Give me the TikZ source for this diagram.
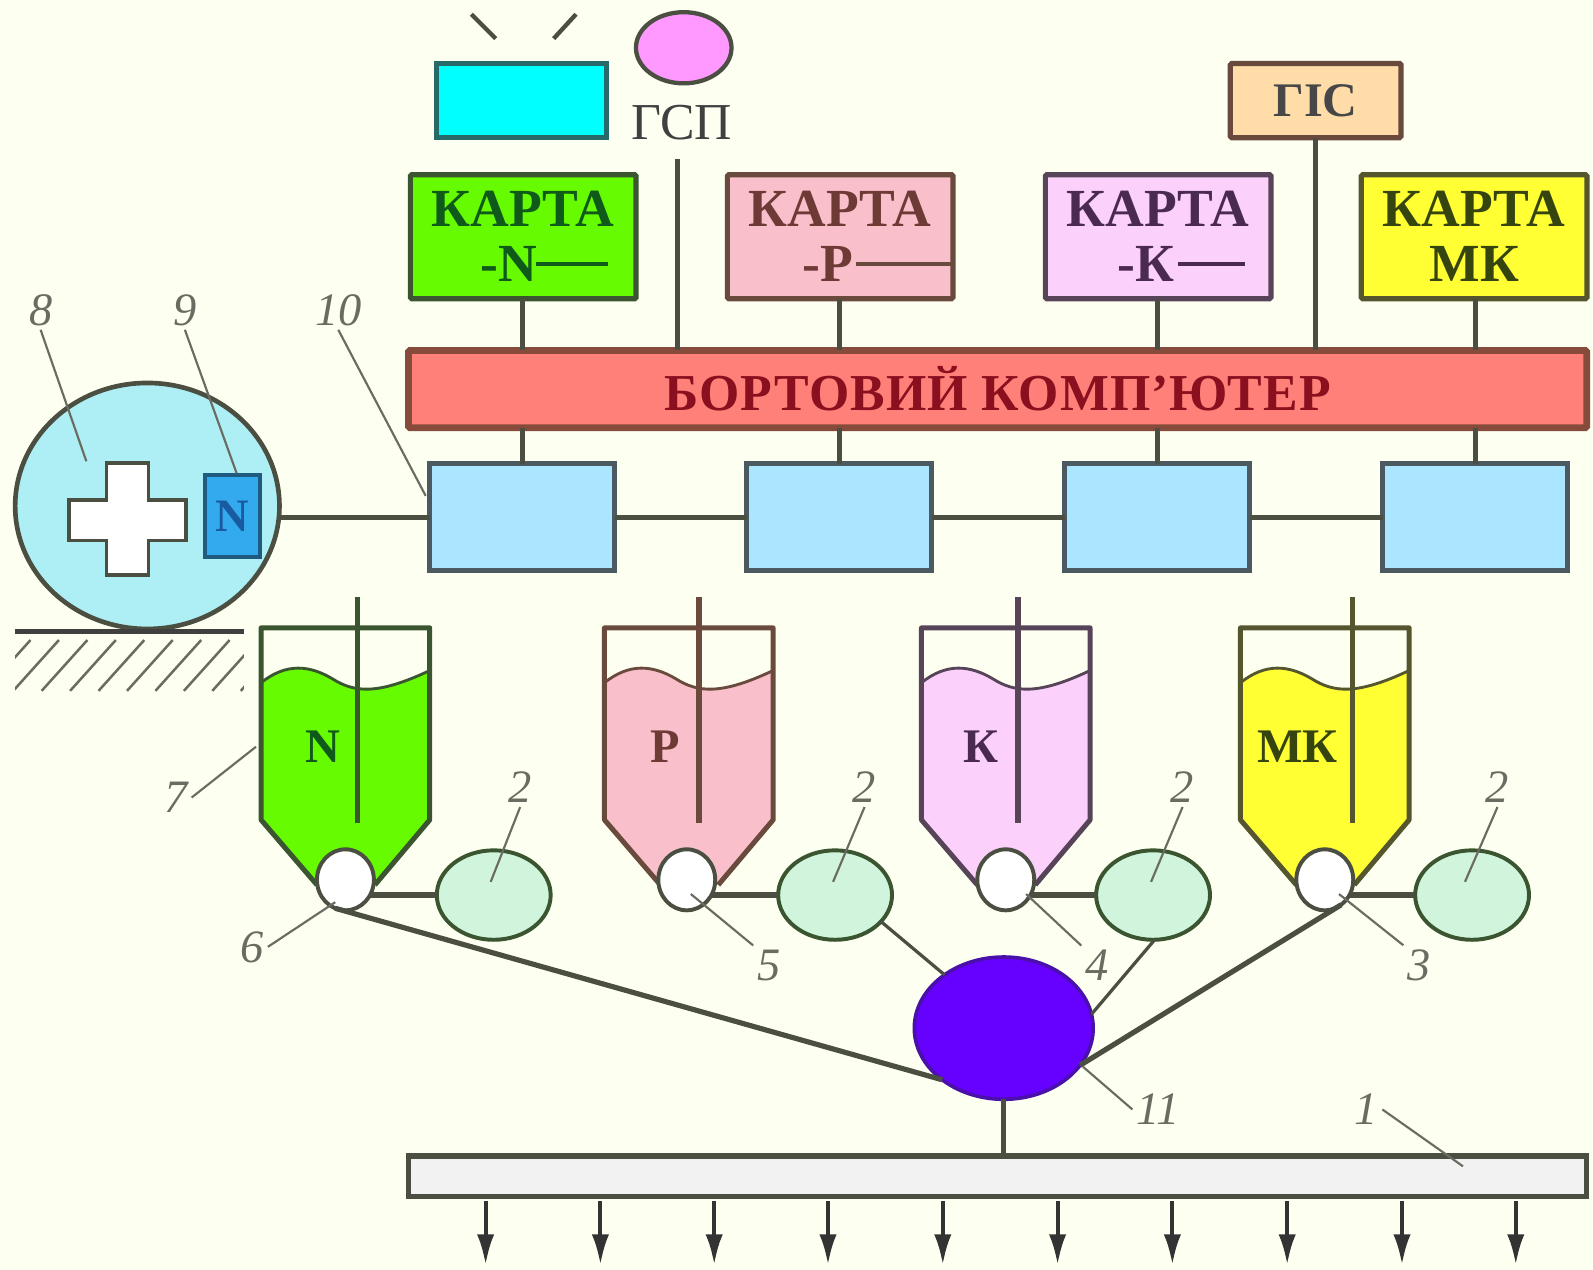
\documentclass[tikz,border=0pt]{standalone}
\usepackage{fontspec}
\setmainfont{Liberation Serif}
\usetikzlibrary{shapes.geometric,arrows.meta}

\definecolor{paper}{HTML}{FDFFF1}
\definecolor{darkline}{HTML}{4A4F42}
\definecolor{leadgray}{HTML}{6A6C62}
\definecolor{lgreen}{HTML}{66FB00}
\definecolor{lpink}{HTML}{F9BFCB}
\definecolor{lviolet}{HTML}{FBD0FB}
\definecolor{lyellow}{HTML}{FFFF33}
\definecolor{txgreen}{HTML}{0F5A1A}
\definecolor{txbrown}{HTML}{6E3A35}
\definecolor{txviolet}{HTML}{4A2A50}
\definecolor{txolive}{HTML}{36450F}
\definecolor{lngreen}{HTML}{3A5530}
\definecolor{lnbrown}{HTML}{6A4A3C}
\definecolor{lnviolet}{HTML}{574458}
\definecolor{lnolive}{HTML}{55562E}

\tikzset{
    box/.style n args={3}{draw=#2, fill=#1, text=#3, line width=1.45pt, rounded corners=0.4pt,
        outer sep=0pt, inner sep=0pt, align=center, font=\fontsize{15}{15.4}\selectfont\bfseries},
    kartabox/.style={minimum width=2.22cm, minimum height=1.22cm},
    dosebox/.style={draw=#1, fill={rgb,255:red,170;green,230;blue,255}, line width=1.5pt, outer sep=0pt, inner sep=0pt,
        minimum width=1.82cm, minimum height=1.05cm},
    valve/.style={ellipse, draw=darkline, fill=white, line width=1.1pt, inner sep=0pt, outer sep=0pt,
        minimum width=0.56cm, minimum height=0.6cm},
    drive/.style={ellipse, draw=lngreen, fill={rgb,255:red,208;green,245;blue,220}, line width=1.1pt, inner sep=0pt,
        outer sep=0pt, minimum width=1.12cm, minimum height=0.88cm},
    numlabel/.style={text=leadgray, inner sep=1pt, font=\fontsize{13}{13}\selectfont\itshape},
    leader/.style={draw=leadgray, line width=0.6pt},
    wire/.style={draw=darkline, line width=1.45pt},
    binlabel/.style={font=\fontsize{13.5}{14}\selectfont\bfseries},
}

% one hopper: fill, line colour, left x, rod x
\newcommand{\hopper}[4]{
    \begin{scope}[xshift=#3*0.01cm]
        \fill[#1] (0,672) .. controls (25,652) and (48,655) .. (70,668) .. controls (92,682) and (115,684) .. (166,660)
            -- (166,807) -- (112,871) -- (55,871) -- (0,807) -- cycle;
        \draw[#2, line width=0.8pt] (0,672) .. controls (25,652) and (48,655) .. (70,668) .. controls (92,682) and (115,684) .. (166,660);
        \draw[#2, line width=1.4pt, line join=round] (55,871) -- (0,807) -- (0,618) -- (166,618) -- (166,807) -- (112,871);
        \draw[#2, line width=1.5pt] (#4,588) -- (#4,810);
    \end{scope}
}

\begin{document}
\begin{tikzpicture}[x=0.01cm, y=-0.01cm]
    \useasboundingbox (0,0) rectangle (1568,1250);
    \fill[paper] (0,0) rectangle (1568,1250);

    % top row
    \node[draw={rgb,255:red,40;green,105;blue,105}, fill={rgb,255:red,0;green,255;blue,255}, line width=1.4pt, outer sep=0pt, minimum width=1.67cm, minimum height=0.72cm] (screen) at (513,99) {};
    \coordinate (rayA) at (464,14);
    \coordinate (rayAe) at (488,38);
    \coordinate (rayB) at (567,14);
    \coordinate (rayBe) at (545,38);
    \draw[darkline, line width=1.2pt] (rayA) -- (rayAe);
    \draw[darkline, line width=1.2pt] (rayB) -- (rayBe);
    \node[ellipse, draw=darkline, fill={rgb,255:red,255;green,153;blue,255}, line width=1.2pt, inner sep=0pt, minimum width=0.94cm, minimum height=0.7cm] (sat) at (673,47) {};
    \node[text=black!75, inner sep=0pt, font=\fontsize{14.5}{15}\selectfont] (gsp) at (671,121) {ГСП};
    \node[box={{rgb,255:red,255;green,220;blue,168}}{lnbrown}{black!72}, font=\fontsize{13.5}{14}\selectfont\bfseries, minimum width=1.68cm, minimum height=0.73cm] (gis) at (1295,99) {ГІС};

    % maps
    \node[box={lgreen}{lngreen}{txgreen}, kartabox] (mapN) at (515,233) {КАРТА\\-N\rule{8pt}{0pt}};
    \node[box={lpink}{lnbrown}{txbrown}, kartabox] (mapP) at (827,233) {КАРТА\\-Р\rule{7pt}{0pt}};
    \node[box={lviolet}{lnviolet}{txviolet}, kartabox] (mapK) at (1140,233) {КАРТА\\-К\rule{7pt}{0pt}};
    \node[box={lyellow}{lnolive}{txolive}, kartabox] (mapM) at (1451,233) {КАРТА\\МК};
    \coordinate (dashNa) at (528,260);
    \coordinate (dashNb) at (598,260);
    \coordinate (dashPa) at (843,260);
    \coordinate (dashKa) at (1160,260);
    \coordinate (dashKb) at (1225,260);
    \draw[txgreen, line width=1.2pt] (dashNa) -- (dashNb);
    \draw[lnbrown, line width=1.2pt] (dashPa) -- (dashPa -| mapP.east);
    \draw[txviolet, line width=1.2pt] (dashKa) -- (dashKb);

    % computer
    \node[box={{rgb,255:red,255;green,128;blue,120}}{{rgb,255:red,135;green,75;blue,60}}{{rgb,255:red,138;green,16;blue,32}}, line width=1.9pt, minimum width=11.59cm, minimum height=0.76cm, font=\fontsize{14.5}{15}\selectfont\bfseries] (comp) at (982,383) {\addfontfeatures{LetterSpace=2}БОРТОВИЙ КОМП’ЮТЕР};

    % dosing controllers
    \definecolor{ctlline}{HTML}{4A5A60}
    \node[dosebox=ctlline] (ctlN) at (514,509) {};
    \node[dosebox=ctlline] (ctlP) at (826,509) {};
    \node[dosebox=ctlline] (ctlK) at (1139,509) {};
    \node[dosebox=ctlline] (ctlM) at (1452,509) {};

    % wheel with sensor
    \node[ellipse, draw=darkline, fill={rgb,255:red,174;green,239;blue,245}, line width=1.3pt, inner sep=0pt, outer sep=0pt, minimum width=2.6cm, minimum height=2.42cm] (wheel) at (145,498) {};
    \draw[darkline, fill=white, line width=1pt] (105,456) -- (146,456) -- (146,492) -- (183,492) -- (183,532) -- (146,532) -- (146,566) -- (105,566) -- (105,532) -- (68,532) -- (68,492) -- (105,492) -- cycle;
    \node[draw={rgb,255:red,32;green,90;blue,128}, fill={rgb,255:red,51;green,170;blue,238}, text={rgb,255:red,26;green,90;blue,160}, line width=1.2pt, outer sep=0pt, inner sep=0pt, minimum width=0.54cm, minimum height=0.81cm, font=\fontsize{13}{13}\selectfont\bfseries] (sensor) at (229,508) {N};
    \draw[black!75, line width=1.4pt] (15,622) -- (240,622);
    \begin{scope}
        \clip (15,622) rectangle (240,682);
        \foreach \x in {30,58,...,310}
            \draw[leadgray, line width=0.7pt] (\x,630) -- (\x-45,680);
    \end{scope}

    % connectors of the top part
    \draw[wire] (sat |- comp.north) ++(-6,0) -- ++(0,-188);
    \draw[wire] (gis.south) -- (gis.south |- comp.north);
    \draw[wire] (mapN.south -| ctlN) -- (comp.north -| ctlN);
    \draw[wire] (mapP.south -| ctlP) -- (comp.north -| ctlP);
    \draw[wire] (mapK.south -| ctlK) -- (comp.north -| ctlK);
    \draw[wire] (mapM.south -| ctlM) -- (comp.north -| ctlM);
    \draw[wire] (comp.south -| ctlN) -- (ctlN.north);
    \draw[wire] (comp.south -| ctlP) -- (ctlP.north);
    \draw[wire] (comp.south -| ctlK) -- (ctlK.north);
    \draw[wire] (comp.south -| ctlM) -- (ctlM.north);
    \draw[wire] (wheel.east |- ctlN.west) -- (ctlN.west);
    \draw[wire] (ctlN.east) -- (ctlP.west);
    \draw[wire] (ctlP.east) -- (ctlK.west);
    \draw[wire] (ctlK.east) -- (ctlM.west);

    % hoppers
    \hopper{lgreen}{lngreen}{257}{95}
    \hopper{lpink}{lnbrown}{595}{93}
    \hopper{lviolet}{lnviolet}{907}{95}
    \hopper{lyellow}{lnolive}{1221}{110}
    \node[binlabel, text=txgreen] (binN) at (318,735) {N};
    \node[binlabel, text=txbrown] (binP) at (655,735) {Р};
    \node[binlabel, text=txviolet] (binK) at (966,735) {К};
    \node[binlabel, text=txolive] (binM) at (1277,735) {МК};

    % valves and drives
    \node[valve] (valveN) at (340,866) {};
    \node[valve] (valveP) at (676,866) {};
    \node[valve] (valveK) at (990,866) {};
    \node[valve] (valveM) at (1304,866) {};
    \node[drive] (driveN) at (486,881) {};
    \node[drive] (driveP) at (822,881) {};
    \node[drive] (driveK) at (1135,881) {};
    \node[drive] (driveM) at (1449,881) {};
    \draw[wire] (driveN.west) -- (driveN.west -| valveN.-30);
    \draw[wire] (driveP.west) -- (driveP.west -| valveP.-30);
    \draw[wire] (driveK.west) -- (driveK.west -| valveK.-30);
    \draw[wire] (driveM.west) -- (driveM.west -| valveM.-30);

    % mixer and boom
    \node[ellipse, draw={rgb,255:red,74;green,16;blue,170}, fill={rgb,255:red,102;green,0;blue,255}, line width=1pt, inner sep=0pt, outer sep=0pt, minimum width=1.76cm, minimum height=1.4cm] (mixer) at (988,1012) {};
    \draw[wire] (valveN.-110) -- (mixer.220);
    \draw[wire] (valveM.-57) -- (mixer.-26);
    \draw[darkline, line width=0.9pt] (driveP.-30) -- (mixer.138);
    \draw[darkline, line width=0.9pt] (driveK.-88) -- (mixer.9);
    \node[draw=darkline, fill=black!5, line width=1.5pt, inner sep=0pt, outer sep=0pt, minimum width=11.59cm, minimum height=0.4cm] (boom) at (982,1158) {};
    \draw[wire] (mixer.south) -- (mixer.south |- boom.north);
    \foreach \x [count=\i] in {478,591,703,815,928,1041,1154,1267,1380,1492} {
        \coordinate (out\i) at (\x,1245);
        \draw[black!80, line width=1.1pt, -{Latex[length=3mm, width=1.7mm]}] (out\i |- boom.south) ++(0,4) -- (out\i);
    }

    % number labels
    \node[numlabel] (lab8) at (40,305) {8};
    \node[numlabel] (lab9) at (182,305) {9};
    \node[numlabel] (lab10) at (333,305) {10};
    \node[numlabel] (lab7) at (173,785) {7};
    \node[numlabel] (lab6) at (248,932) {6};
    \node[numlabel] (lab5) at (757,950) {5};
    \node[numlabel] (lab4) at (1080,950) {4};
    \node[numlabel] (lab3) at (1397,950) {3};
    \node[numlabel] (lab11) at (1140,1092) {11};
    \node[numlabel] (lab1) at (1345,1092) {1};
    \node[numlabel] (labN) at (512,775) {2};
    \node[numlabel] (labP) at (851,775) {2};
    \node[numlabel] (labK) at (1164,775) {2};
    \node[numlabel] (labM) at (1474,775) {2};

    % leaders
    \coordinate (to8) at (85,454);
    \coordinate (to9) at (233,466);
    \coordinate (to10) at (419,488);
    \coordinate (to7) at (252,735);
    \coordinate (to6) at (330,888);
    \coordinate (to5) at (680,880);
    \coordinate (to4) at (1010,880);
    \coordinate (to3) at (1318,880);
    \coordinate (to11) at (1066,1050);
    \coordinate (to1) at (1440,1148);
    \coordinate (toN) at (483,868);
    \coordinate (toP) at (820,868);
    \coordinate (toK) at (1133,868);
    \coordinate (toM) at (1442,868);
    \draw[leader] (lab8.south) -- (to8);
    \draw[leader] (lab9.south) -- (to9);
    \draw[leader] (lab10.south) -- (to10);
    \draw[leader] (lab7.east) -- (to7);
    \draw[leader] (lab6.east) -- (to6);
    \draw[leader] (lab5.north west) -- (to5);
    \draw[leader] (lab4.north west) -- (to4);
    \draw[leader] (lab3.north west) -- (to3);
    \draw[leader] (lab11.west) -- (to11);
    \draw[leader] (lab1.east) -- (to1);
    \draw[leader] (labN.south) -- (toN);
    \draw[leader] (labP.south) -- (toP);
    \draw[leader] (labK.south) -- (toK);
    \draw[leader] (labM.south) -- (toM);
\end{tikzpicture}
\end{document}
